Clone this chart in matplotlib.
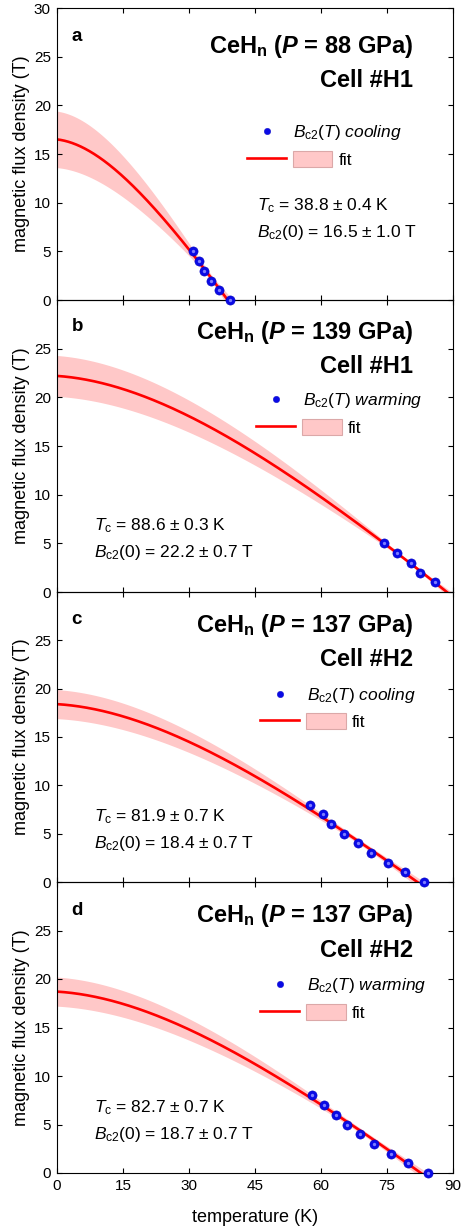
import numpy as np
import matplotlib
matplotlib.use("Agg")
import matplotlib.pyplot as plt
from matplotlib.lines import Line2D
from matplotlib.patches import Patch
from matplotlib.legend_handler import HandlerTuple

# ---- measured upper critical field points (temperature in K, field in T) ----
T_a = [30.9, 32.2, 33.4, 35.1, 36.75, 39.4]
B_a = [5, 4, 3, 2, 1, 0]
T_b = [74.4, 77.2, 80.5, 82.6, 85.9]
B_b = [5, 4, 3, 2, 1]
T_c = [57.5, 60.4, 62.3, 65.3, 68.3, 71.3, 75.2, 79.1, 83.4]
B_c = [8, 7, 6, 5, 4, 3, 2, 1, 0]
T_d = [57.9, 60.7, 63.3, 66.0, 68.9, 72.0, 75.8, 79.7, 84.4]
B_d = [8, 7, 6, 5, 4, 3, 2, 1, 0]

# ---- fit parameters ----
Tc = [38.8, 88.6, 81.9, 82.7]
Tc_err = [0.4, 0.3, 0.7, 0.7]
B0 = [16.5, 22.2, 18.4, 18.7]
B0_err = [1.0, 0.7, 0.7, 0.7]
band_at_zero = [2.9, 2.1, 1.5, 1.5]   # half-width of the confidence band at T = 0

# ---- panel texts ----
letters = ["a", "b", "c", "d"]
pressures = ["88", "139", "137", "137"]
cells = ["#H1", "#H1", "#H2", "#H2"]
modes = ["cooling", "warming", "cooling", "warming"]
x_ticks = [0, 15, 30, 45, 60, 75, 90]

T_data = [T_a, T_b, T_c, T_d]
B_data = [B_a, B_b, B_c, B_d]

plt.rcParams.update({
    "font.family": ["Liberation Sans", "DejaVu Sans"],
    "mathtext.fontset": "custom",
    "mathtext.rm": "Liberation Sans",
    "mathtext.it": "Liberation Sans:italic",
    "mathtext.bf": "Liberation Sans:bold",
    "mathtext.bfit": "Liberation Sans:bold:italic",
    "axes.linewidth": 0.8,
})

LINE_RED = "#ff0000"
BAND_PINK = "#ffc8c8"
DOT_BLUE = "#0a0ae6"


def whh_shape(u):
    # simplified WHH temperature dependence, normalised to 1 at T = 0
    return (u - 0.153 * u**2 - 0.152 * u**4) / 0.695


def whh_slope(u):
    return (1 - 0.306 * u - 0.608 * u**3) / 0.695


def fit_curve(T, b0, tc):
    return b0 * whh_shape(1 - T / tc)


def jacobian(T, b0, tc):
    T = np.asarray(T, dtype=float)
    u = 1 - T / tc
    return np.column_stack([whh_shape(u), b0 * whh_slope(u) * T / tc**2])


W, H = 461, 1227
fig = plt.figure(figsize=(W / 100, H / 100), dpi=100)

# panel extents in pixels (top, bottom)
rows = [(8, 300), (300, 592), (592, 882), (882, 1173)]
x0_px, w_px = 57, 396

title_y = [(25.35, 21.86), (25.97, 22.47), (25.83, 22.3), (25.83, 22.3)]
letter_y = [26.65, 26.86, 26.65, 26.55]
note_pos = [(45.4, 9.25, 6.5), (8.5, 6.37, 3.63), (8.5, 6.27, 3.53), (8.5, 6.24, 3.49)]
legend_pos = [(0.479, 0.573, 0.482), (0.5025, 0.655, 0.564),
              (0.5126, 0.644, 0.553), (0.5126, 0.643, 0.551)]

FS_LEG = 12.5

for i, (top, bot) in enumerate(rows):
    ax = fig.add_axes([x0_px / W, 1 - bot / H, w_px / W, (bot - top) / H])
    ax.patch.set_visible(False)
    ax.set_zorder(10 - i)

    tgrid = np.linspace(0, Tc[i] * 1.03, 500)
    curve = fit_curve(tgrid, B0[i], Tc[i])

    J = jacobian(T_data[i], B0[i], Tc[i])
    M = np.linalg.inv(J.T @ J)
    jg = jacobian(tgrid, B0[i], Tc[i])
    var = np.einsum("ij,jk,ik->i", jg, M, jg)
    half = band_at_zero[i] * np.sqrt(var / M[0, 0])

    ax.fill_between(tgrid, curve - half, curve + half, color=BAND_PINK,
                    linewidth=0, zorder=1)
    ax.plot(tgrid, curve, color=LINE_RED, lw=1.9, zorder=2)
    ax.plot(T_data[i], B_data[i], "o", ms=6.6, color=DOT_BLUE, mec="#0000c0",
            mew=0.4, zorder=3, clip_on=False)
    ax.plot(T_data[i], B_data[i], "o", ms=2.4, color="#7d7dff", mew=0,
            zorder=4, clip_on=False)

    ax.set_xlim(0, 90)
    ax.set_ylim(0, 30)
    ax.set_xticks(x_ticks)
    ax.set_yticks(range(0, 31, 5) if i == 0 else range(0, 26, 5))
    ax.tick_params(direction="in", top=True, right=True, length=3.8,
                   width=0.8, labelsize=11, pad=4.5)
    if i < 3:
        ax.tick_params(labelbottom=False)
    else:
        ax.set_xlabel("temperature (K)", fontsize=13, labelpad=11)
    ax.set_ylabel("magnetic flux density (T)", fontsize=13, labelpad=3)

    # headings
    ax.text(3.3, letter_y[i], letters[i], fontsize=13.5, fontweight="bold",
            ha="left", va="baseline")
    ax.text(81.0, title_y[i][0],
            r"CeH$_\mathbf{n}$ ($\mathbfit{P}$ = " + pressures[i] + " GPa)",
            fontsize=17, fontweight="bold", ha="right", va="baseline")
    ax.text(81.0, title_y[i][1], "Cell " + cells[i], fontsize=17,
            fontweight="bold", ha="right", va="baseline")

    # fit results
    nx, ny1, ny2 = note_pos[i]
    ax.text(nx, ny1, r"$T_\mathrm{c}$ = %.1f ± %.1f K" % (Tc[i], Tc_err[i]),
            fontsize=12.5, ha="left", va="baseline")
    ax.text(nx, ny2, r"$B_\mathrm{c2}$(0) = %.1f ± %.1f T" % (B0[i], B0_err[i]),
            fontsize=12.5, ha="left", va="baseline")

    # legend: symbol row and fit row
    lx, ly1, ly2 = legend_pos[i]
    dot = Line2D([], [], ls="none", marker="o", ms=4.6, color=DOT_BLUE,
                 mec="#0000c0", mew=0.3)
    leg1 = ax.legend([dot], [r"$B_\mathrm{c2}(T)$ $\mathit{%s}$" % modes[i]],
                     loc="center left", bbox_to_anchor=(lx, ly1),
                     frameon=False, fontsize=FS_LEG, handlelength=2.3,
                     handletextpad=0.38, borderpad=0, borderaxespad=0)
    ax.add_artist(leg1)
    fit_line = Line2D([], [], color=LINE_RED, lw=1.9)
    fit_patch = Patch(facecolor=BAND_PINK, edgecolor="#dba8a8", lw=0.8)
    ax.legend([(fit_line, fit_patch)], ["fit"],
              handler_map={tuple: HandlerTuple(ndivide=None, pad=0.38)},
              loc="center left", bbox_to_anchor=(lx, ly2), frameon=False,
              fontsize=FS_LEG, handlelength=4.93, handleheight=1.05,
              handletextpad=0.35, borderpad=0, borderaxespad=0)

fig.savefig("out.png", dpi=100)
